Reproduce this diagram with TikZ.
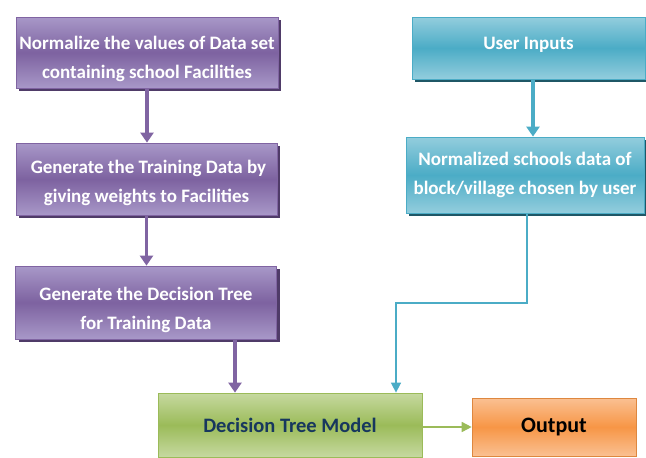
\documentclass[tikz,border=0pt]{standalone}
\usepackage{fontspec}
\setmainfont{Carlito}
\usetikzlibrary{arrows.meta,shadows,calc}
\definecolor{pmid}{HTML}{7D62A0}
\definecolor{pedge}{HTML}{A898C8}
\definecolor{pshadow}{HTML}{4F3B68}
\definecolor{pline}{HTML}{8064A2}
\definecolor{cmid}{HTML}{4BACC6}
\definecolor{cedge}{HTML}{93CDDD}
\definecolor{cshadow}{HTML}{1F5766}
\definecolor{gmid}{HTML}{9BBB59}
\definecolor{gedge}{HTML}{C6D9A0}
\definecolor{omid}{HTML}{F79646}
\definecolor{oedge}{HTML}{FAC092}
\definecolor{navy}{HTML}{17375E}
\tikzset{
  box/.style={rectangle, inner sep=1pt, align=center, font=\bfseries\fontsize{19}{29}\selectfont},
  pbox/.style={box, top color=pedge, bottom color=pedge, middle color=pmid, draw=pline, line width=0.8pt, text=white,
     drop shadow={shadow xshift=3pt, shadow yshift=-3pt, fill=pshadow, opacity=1}},
  cbox/.style={box, top color=cedge, bottom color=cedge, middle color=cmid, draw=cmid, line width=0.8pt, text=white,
     drop shadow={shadow xshift=3pt, shadow yshift=-3pt, fill=cshadow, opacity=1}},
  gbox/.style={box, top color=gedge, bottom color=gedge, middle color=gmid, draw=gmid, line width=0.8pt, text=navy, font=\bfseries\fontsize{20.5}{24}\selectfont},
  obox/.style={box, top color=oedge, bottom color=oedge, middle color=omid, draw=omid!90!black, line width=0.6pt, text=black, font=\bfseries\fontsize{22}{26}\selectfont},
  parrow/.style={draw=pline, line width=3.6pt, -{Triangle[width=13pt,length=10pt]}},
  carrow/.style={draw=cmid, line width=3.6pt, -{Triangle[width=13pt,length=10pt]}},
  cline/.style={draw=cmid, line width=1.6pt, -{Triangle[width=10pt,length=10pt]}},
  gline/.style={draw=gmid, line width=1.6pt, -{Triangle[width=10pt,length=10pt]}},
}
\begin{document}
\begin{tikzpicture}[x=1pt,y=-1pt]
\useasboundingbox (0,0) rectangle (646,458);
\node[pbox, minimum width=262pt, minimum height=71pt, text height=56.5pt, text depth=4.5pt] (b1) at (147,52.5) {Normalize the values of Data set\\containing school Facilities};
\node[pbox, minimum width=261pt, minimum height=72pt, text height=51.5pt, text depth=4.5pt] (b2) at (146.5,179) {\hspace*{4pt}Generate the Training Data by\\giving weights to Facilities};
\node[pbox, minimum width=261pt, minimum height=73pt, text height=58.5pt, text depth=4.5pt] (b3) at (146,302.5) {Generate the Decision Tree\\for Training Data};
\node[cbox, minimum width=233pt, minimum height=62pt, text height=14pt, text depth=11pt] (c1) at (528.5,48) {User Inputs};
\node[cbox, minimum width=238pt, minimum height=76pt] (c2) at (525,175) {Normalized schools data of\\block/village chosen by user};
\node[gbox, minimum width=264pt, minimum height=64pt] (g) at (290,425) {Decision Tree Model};
\node[obox, minimum width=164pt, minimum height=58pt] (o) at (554,427) {Output};
\coordinate (k) at (396,303);
\draw[parrow] (b1.south) -- (b1.south |- b2.north);
\draw[parrow] (b2.south) -- (b2.south |- b3.north);
\draw[parrow] ([xshift=89pt]b3.south) -- ([xshift=89pt]b3.south |- g.north);
\draw[carrow] ([xshift=4.5pt]c1.south) -- ([xshift=4.5pt]c1.south |- c2.north);
\draw[cline] ([xshift=2pt]c2.south) |- (k) -- (k |- g.north);
\draw[gline] (o.west -| g.east) -- (o.west);
\end{tikzpicture}
\end{document}
